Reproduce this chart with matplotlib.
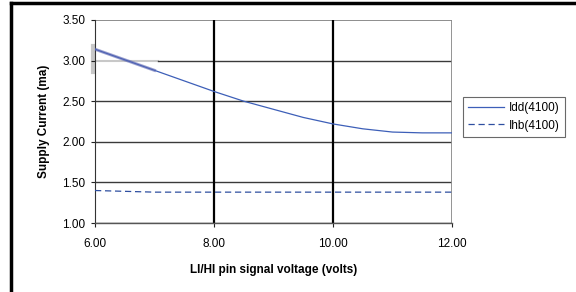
import matplotlib
matplotlib.use("Agg")
import matplotlib.pyplot as plt
from matplotlib.lines import Line2D

plt.rcParams['font.family'] = ['Liberation Sans', 'DejaVu Sans']

# Datos
voltaje = [6.0, 6.5, 7.0, 7.5, 8.0, 8.5, 9.0, 9.5, 10.0, 10.5, 11.0, 11.5, 12.0]
idd_4100 = [3.14, 3.01, 2.88, 2.75, 2.62, 2.50, 2.40, 2.30, 2.22, 2.16, 2.12, 2.11, 2.11]
ihb_4100 = [1.40, 1.39, 1.38, 1.38, 1.38, 1.38, 1.38, 1.38, 1.38, 1.38, 1.38, 1.38, 1.38]
y_ticks = [1.00, 1.50, 2.00, 2.50, 3.00, 3.50]
x_ticks = [6.00, 8.00, 10.00, 12.00]

fig = plt.figure(figsize=(5.76, 2.92), dpi=100)
ax = fig.add_axes([95 / 576, 1 - 223 / 292, (452 - 95) / 576, (223 - 20) / 292])

ax.set_xlim(6, 12)
ax.set_ylim(1.0, 3.5)

# Rejilla horizontal
for y in y_ticks:
    if y == 3.0:
        ax.plot([6, 7.06], [y, y], color='#c8c8c8', lw=1.5, zorder=1)
        ax.plot([7.06, 12], [y, y], color='#3a3a3a', lw=1.0, zorder=1)
    elif y == 3.5:
        ax.plot([6, 12], [y, y], color='#7a7a7a', lw=1.2, zorder=1)
    else:
        ax.plot([6, 12], [y, y], color='#3a3a3a', lw=1.0, zorder=1)

# Mancha gris junto al eje en 3.00
ax.plot([5.97, 5.97], [2.86, 3.18], color='#c8c8c8', lw=3.0, zorder=1, clip_on=False)

# Rejilla vertical
for x in [8.0, 10.0]:
    ax.axvline(x, color='black', lw=1.6, zorder=1)
ax.axvline(12.0, color='#8a8a8a', lw=2.0, zorder=1)

ax.plot(voltaje, idd_4100, color='#3d5fb8', lw=0.9, label='Idd(4100)', zorder=3)
ax.plot(voltaje[:3], idd_4100[:3], color='#5a64b0', lw=2.2, alpha=0.6, zorder=3)
ax.plot(voltaje, ihb_4100, color='#2e4fa0', lw=0.9, ls=(0, (5, 3)),
        label='Ihb(4100)', zorder=3)

ax.set_xticks(x_ticks)
ax.set_xticklabels([f"{v:.2f}" for v in x_ticks])
ax.set_yticks(y_ticks)
ax.set_yticklabels([f"{v:.2f}" for v in y_ticks])
ax.tick_params(axis='both', labelsize=8.5, colors='#222222', length=3, width=0.8,
               direction='out')
ax.tick_params(axis='x', pad=8)
ax.tick_params(axis='y', pad=4)
for lbl in ax.get_xticklabels() + ax.get_yticklabels():
    lbl.set_color('black')

for side in ['top', 'right']:
    ax.spines[side].set_visible(False)
ax.spines['left'].set_color('#333333')
ax.spines['left'].set_linewidth(0.8)
ax.spines['bottom'].set_color('#555555')
ax.spines['bottom'].set_linewidth(1.0)

ax.set_xlabel('LI/HI pin signal voltage (volts)', fontsize=8.5, fontweight='bold', labelpad=10)
ax.set_ylabel('Supply Current (ma)', fontsize=8.5, fontweight='bold', labelpad=9)

leg = ax.legend(loc='upper left', bbox_to_anchor=(463 / 576, 1 - 97 / 292),
                bbox_transform=fig.transFigure, fontsize=8.5, frameon=True,
                fancybox=False, edgecolor='#444444', borderpad=0.45,
                handlelength=3.0, handletextpad=0.4, labelspacing=0.45,
                borderaxespad=0)
leg.get_frame().set_linewidth(0.8)

# Marco exterior
fig.add_artist(Line2D([11 / 576, 1], [1 - 3 / 292, 1 - 3 / 292],
                      transform=fig.transFigure, color='black', lw=2.5))
fig.add_artist(Line2D([11 / 576, 11 / 576], [0, 1 - 3 / 292],
                      transform=fig.transFigure, color='black', lw=2.5))

fig.savefig('out.png', dpi=100)
